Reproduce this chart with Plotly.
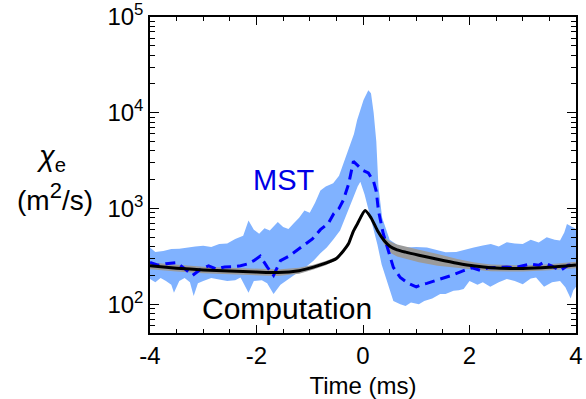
import plotly.graph_objects as go

# ---------------- data ----------------
# Computation (black line) with its grey uncertainty band
comp_t = [-4.0, -3.5, -3.0, -2.5, -2.0, -1.6, -1.2, -0.93, -0.7, -0.5, -0.37, -0.27, -0.18, -0.1,
          0.04, 0.15, 0.27, 0.4, 0.51, 0.64, 0.8, 1.05, 1.4, 1.77, 2.1, 2.4, 3.0, 3.5, 4.0]
comp_val = [252, 238, 228, 222, 217, 214, 224, 244, 268, 300, 360, 430, 580, 700,
            950, 800, 590, 460, 400, 370, 350, 325, 295, 268, 250, 240, 236, 243, 257]
comp_upper = [272, 257, 246, 240, 234, 231, 240, 258, 282, 312, 372, 443, 595, 718,
              975, 825, 615, 495, 452, 420, 398, 370, 335, 297, 272, 260, 254, 262, 277]
comp_lower = [232, 219, 210, 204, 200, 197, 208, 230, 255, 288, 348, 417, 565, 682,
              925, 775, 565, 420, 345, 315, 298, 275, 252, 240, 229, 221, 219, 226, 238]

# MST measurement (dashed blue) mean
mst_t = [-4.0, -3.85, -3.7, -3.5, -3.35, -3.2, -3.05, -2.9, -2.75, -2.6, -2.45, -2.3, -2.18, -2.05,
         -1.93, -1.8, -1.68, -1.55, -1.4, -1.25, -1.1, -0.95, -0.8, -0.65, -0.55, -0.45, -0.37,
         -0.27, -0.18, -0.1, 0.0, 0.1, 0.2, 0.25, 0.29, 0.38, 0.48, 0.57, 0.7, 0.85, 1.0, 1.1,
         1.2, 1.4, 1.64, 1.89, 2.05, 2.2, 2.35, 2.52, 2.7, 2.83, 3.0, 3.14, 3.3, 3.39, 3.55,
         3.7, 3.85, 4.0]
mst_val = [273, 255, 265, 272, 235, 200, 232, 252, 233, 245, 246, 252, 262, 285,
           318, 245, 200, 285, 315, 360, 420, 480, 600, 700, 880, 1000, 1220,
           1800, 3100, 2800, 2500, 2350, 1900, 1500, 950, 545, 362, 242, 190, 165, 152, 160,
           165, 178, 198, 224, 240, 226, 240, 242, 245, 240, 250, 263, 255, 273, 250,
           224, 255, 263]

# MST band upper edge
mst_up_t = [-4.0, -3.9, -3.75, -3.6, -3.45, -3.3, -3.15, -3.0, -2.85, -2.7, -2.55, -2.4, -2.25,
            -2.15, -2.05, -1.95, -1.85, -1.75, -1.6, -1.5, -1.4, -1.3, -1.2, -1.1, -1.0, -0.9,
            -0.8, -0.7, -0.56, -0.45, -0.37, -0.3, -0.24, -0.17, -0.11, -0.05, 0.01, 0.1, 0.15,
            0.2, 0.25, 0.29, 0.36, 0.5, 0.7, 0.8, 1.0, 1.2, 1.4, 1.55, 1.75, 1.9, 2.08, 2.25,
            2.4, 2.55, 2.7, 2.85, 3.0, 3.15, 3.3, 3.45, 3.6, 3.7, 3.78, 3.83, 3.92, 4.0]
mst_up = [392, 350, 360, 378, 380, 392, 400, 408, 395, 425, 430, 481, 520,
          750, 600, 543, 620, 587, 720, 640, 611, 700, 800, 952, 900, 1150,
          1540, 1700, 1830, 2200, 2950, 3800, 4780, 6000, 8400, 10500, 13600, 17200, 16000,
          10000, 5000, 1700, 800, 470, 395, 392, 395, 390, 365, 348, 350, 370, 392, 410,
          425, 400, 443, 430, 425, 470, 440, 501, 470, 462, 560, 690, 650, 611]

# MST band lower edge
mst_lo_t = [-4.0, -3.9, -3.8, -3.7, -3.6, -3.55, -3.45, -3.35, -3.25, -3.18, -3.1, -3.0, -2.85,
            -2.7, -2.55, -2.4, -2.3, -2.15, -2.05, -1.9, -1.8, -1.68, -1.55, -1.45, -1.3, -1.18,
            -1.05, -0.93, -0.8, -0.68, -0.55, -0.43, -0.3, -0.18, -0.1, -0.05, 0.03, 0.12, 0.2,
            0.27, 0.35, 0.45, 0.57, 0.7, 0.8, 0.9, 1.05, 1.15, 1.3, 1.45, 1.55, 1.7, 1.8, 1.89,
            2.0, 2.15, 2.25, 2.39, 2.55, 2.7, 2.85, 3.0, 3.15, 3.25, 3.4, 3.55, 3.7, 3.8, 3.9,
            3.95, 4.0]
mst_lo = [183, 170, 188, 175, 160, 132, 175, 188, 170, 122, 165, 175, 188,
          180, 175, 178, 190, 132, 175, 178, 165, 128, 160, 175, 200, 224,
          250, 284, 340, 392, 480, 587, 900, 1310, 1700, 1900, 1400, 900, 600,
          420, 260, 170, 108, 100, 96, 104, 100, 108, 115, 128, 128, 138, 140, 144,
          175, 160, 170, 152, 170, 183, 175, 162, 185, 190, 152, 170, 175, 150, 115,
          140, 152]

x_tickvals = [-4, -2, 0, 2, 4]
x_ticktext = ["-4", "-2", "0", "2", "4"]
y_tickvals = [100, 1000, 10000, 100000]
y_ticktext = ["10<sup>2</sup>", "10<sup>3</sup>", "10<sup>4</sup>", "10<sup>5</sup>"]
y_minor = [50, 60, 70, 80, 90,
           200, 300, 400, 500, 600, 700, 800, 900,
           2000, 3000, 4000, 5000, 6000, 7000, 8000, 9000,
           20000, 30000, 40000, 50000, 60000, 70000, 80000, 90000]

FONT = "Liberation Sans, Arial, Helvetica, sans-serif"

fig = go.Figure()

# blue MST band
fig.add_trace(go.Scatter(
    x=mst_up_t + mst_lo_t[::-1], y=mst_up + mst_lo[::-1],
    fill="toself", fillcolor="rgb(128,178,255)", line=dict(width=0),
    mode="lines", hoverinfo="skip", showlegend=False))

# grey computation band
fig.add_trace(go.Scatter(
    x=comp_t + comp_t[::-1], y=comp_upper + comp_lower[::-1],
    fill="toself", fillcolor="rgb(155,155,155)", line=dict(width=0),
    mode="lines", hoverinfo="skip", showlegend=False))

# MST dashed mean
fig.add_trace(go.Scatter(
    x=mst_t, y=mst_val, mode="lines",
    line=dict(color="rgb(0,0,255)", width=3, dash="10px,6px"),
    showlegend=False))

# computation line
fig.add_trace(go.Scatter(
    x=comp_t, y=comp_val, mode="lines",
    line=dict(color="black", width=3, shape="spline", smoothing=0.6),
    showlegend=False))

fig.update_layout(
    template="none",
    width=586, height=399,
    margin=dict(l=150, r=10, t=17, b=66, pad=0),
    paper_bgcolor="white", plot_bgcolor="white",
    font=dict(family=FONT, size=24, color="black"),
    showlegend=False,
    xaxis=dict(
        automargin=False,
        range=[-4, 4], tickmode="array", tickvals=x_tickvals, ticktext=x_ticktext,
        ticks="inside", ticklen=8, tickwidth=1, tickcolor="black",
        showline=True, linecolor="black", linewidth=1.5, mirror="ticks",
        showgrid=False, zeroline=False,
        tickfont=dict(size=24),
        minor=dict(dtick=0.5, tick0=0, ticks="inside", ticklen=4, tickcolor="black", showgrid=False),
        title=dict(text="Time (ms)", font=dict(size=24)),
    ),
    yaxis=dict(
        automargin=False,
        type="log", range=[1.699, 5.0],
        tickmode="array", tickvals=y_tickvals, ticktext=y_ticktext,
        ticks="inside", ticklen=9, tickwidth=1, tickcolor="black",
        showline=True, linecolor="black", linewidth=1.5, mirror="ticks",
        showgrid=False, zeroline=False,
        tickfont=dict(size=24),
        minor=dict(tickmode="array", tickvals=y_minor, ticks="inside", ticklen=5,
                   tickcolor="black", showgrid=False),
    ),
    annotations=[
        dict(text="MST", xref="paper", yref="paper", x=0.315, y=0.484,
             xanchor="center", yanchor="middle",
             showarrow=False, font=dict(size=29, color="rgb(0,0,230)")),
        dict(text="Computation", xref="paper", yref="paper", x=0.321, y=0.076,
             xanchor="center", yanchor="middle",
             showarrow=False, font=dict(size=30, color="black")),
        dict(text="<i>χ</i><sub>e</sub>", xref="paper", yref="paper", x=-0.232, y=0.555,
             xanchor="center", yanchor="middle",
             showarrow=False, font=dict(size=29, color="black")),
        dict(text="(m<sup><span style='font-size:22px'>2</span></sup>/s)",
             xref="paper", yref="paper", x=-0.223, y=0.43,
             xanchor="center", yanchor="middle",
             showarrow=False, font=dict(size=28, color="black")),
    ],
)

fig.write_html("out.html", config={"displayModeBar": False},
               post_script="document.body.style.margin='0';")
